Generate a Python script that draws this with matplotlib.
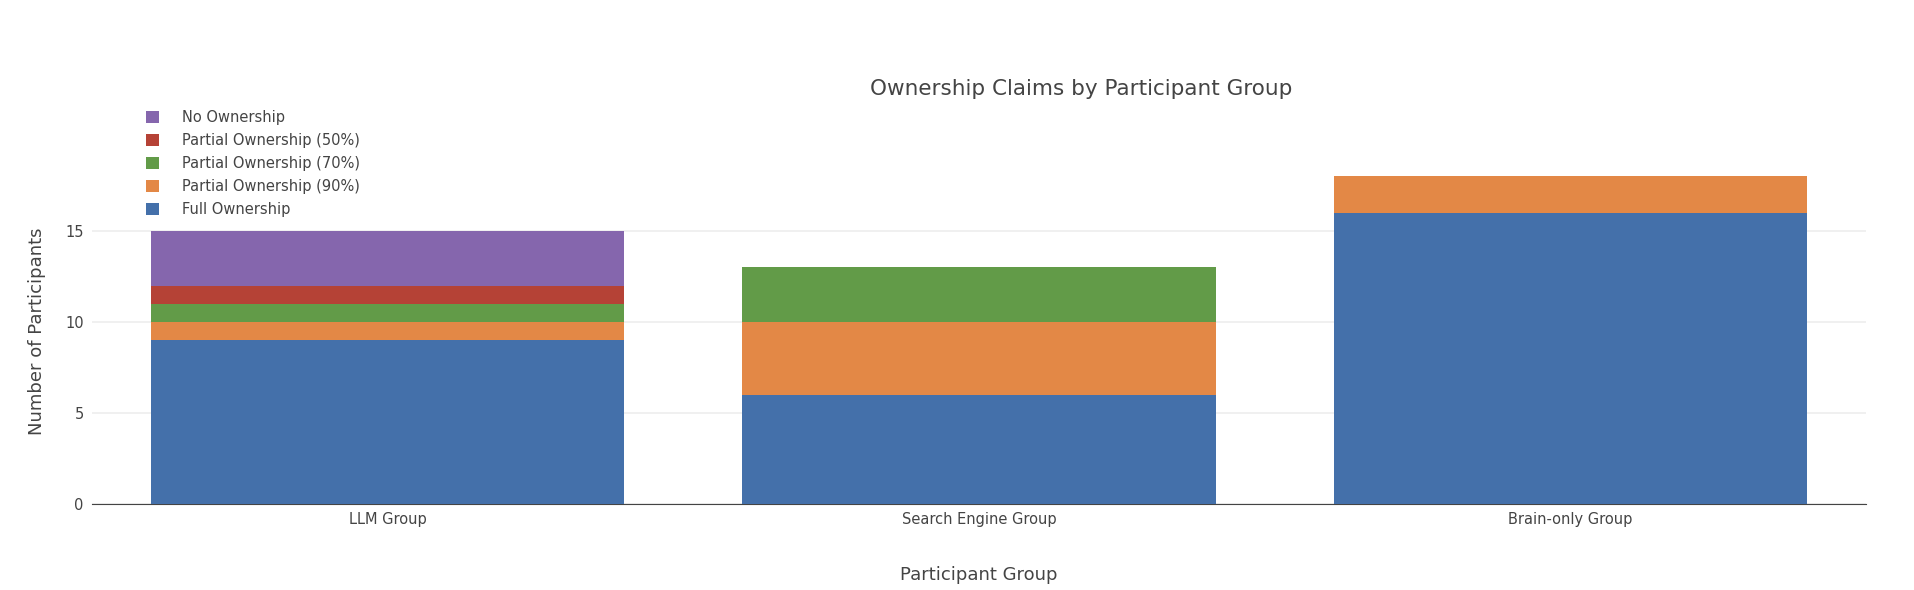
import numpy as np
import matplotlib.pyplot as plt

groups = ["LLM Group", "Search Engine Group", "Brain-only Group"]
series = ["Full Ownership", "Partial Ownership (90%)", "Partial Ownership (70%)",
          "Partial Ownership (50%)", "No Ownership"]
full = [9, 6, 16]
p90 = [1, 4, 2]
p70 = [1, 3, 0]
p50 = [1, 0, 0]
none_ = [3, 0, 0]
colors = ["#4470aa", "#e38846", "#629b48", "#b54236", "#8566ad"]

plt.rcParams['font.family'] = ['DejaVu Sans']
fig = plt.figure(figsize=(19.14, 5.9), dpi=100)
ax = fig.add_axes([92 / 1914, 1 - 504 / 590, (1866 - 92) / 1914, (504 - 159) / 590])

x = np.arange(len(groups))
bottom = np.zeros(len(groups))
handles = []
for name, vals, c in zip(series, [full, p90, p70, p50, none_], colors):
    vals = np.array(vals)
    h = ax.bar(x, vals, 0.8, bottom=bottom, color=c, label=name, zorder=3)
    handles.append(h)
    bottom += vals

ax.set_xlim(-0.5, 2.5)
ax.set_ylim(0, 18.95)
ax.set_yticks([0, 5, 10, 15])
ax.set_xticks(x)
ax.set_xticklabels(groups)
ax.tick_params(axis='both', length=0, labelsize=10.5, colors='#444444', pad=6)
ax.grid(axis='y', color='#eeeeee', linewidth=1.2, zorder=0)
for s in ['top', 'right', 'left']:
    ax.spines[s].set_visible(False)
ax.spines['bottom'].set_color('#444444')
ax.set_xlabel("Participant Group", fontsize=13, color='#444444', labelpad=28)
ax.set_ylabel("Number of Participants", fontsize=13, color='#444444', labelpad=14)
fig.text(0.565, 1 - 89 / 590, "Ownership Claims by Participant Group",
         fontsize=15.5, color='#444444', ha='center', va='center')

leg = fig.legend(handles[::-1], series[::-1], loc='upper left',
                 bbox_to_anchor=(140 / 1914, 1 - 104 / 590), frameon=False,
                 fontsize=10.5, handlelength=0.9, handleheight=0.9,
                 labelspacing=0.55, handletextpad=1.6, borderaxespad=0)
for t in leg.get_texts():
    t.set_color('#444444')

fig.savefig("out.png", dpi=100)
